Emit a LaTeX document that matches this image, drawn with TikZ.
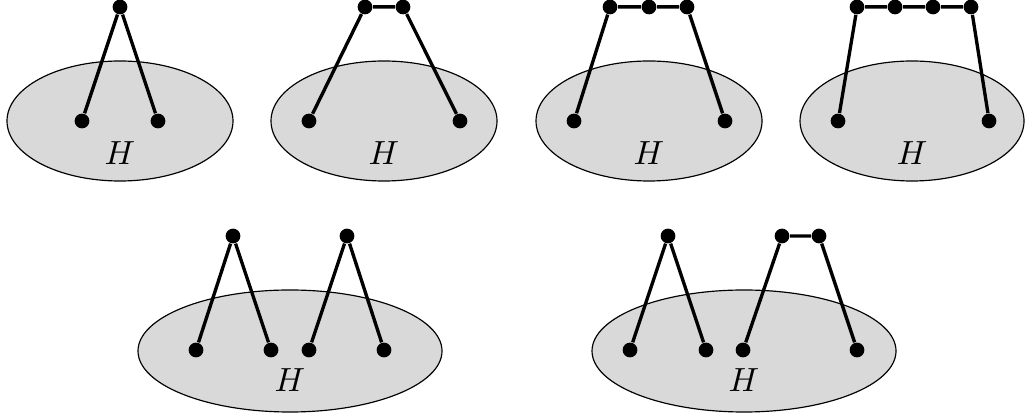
\documentclass[tikz,border=0pt]{standalone}
\begin{document}
\begin{tikzpicture}[scale=1.05,
  vtx/.style={circle,fill=black,inner sep=0pt,minimum size=4.4pt},
  host/.style={fill=gray!30,draw=black,line width=0.35pt},
  edge/.style={line width=1pt}]
\useasboundingbox (0,0) rectangle (10.27,4.14);
% Host graphs
\filldraw[host] (1.20,2.93) ellipse (1.13 and 0.60);
\filldraw[host] (3.84,2.93) ellipse (1.13 and 0.60);
\filldraw[host] (6.49,2.93) ellipse (1.13 and 0.60);
\filldraw[host] (9.12,2.93) ellipse (1.12 and 0.60);
\filldraw[host] (2.90,0.63) ellipse (1.52 and 0.61);
\filldraw[host] (7.44,0.63) ellipse (1.52 and 0.61);
% Labels
\node (h1) at (1.20,2.61) {$H$};
\node (h2) at (3.84,2.61) {$H$};
\node (h3) at (6.49,2.61) {$H$};
\node (h4) at (9.12,2.61) {$H$};
\node (h5) at (2.90,0.34) {$H$};
\node (h6) at (7.44,0.34) {$H$};
% Top row
\node[vtx] (a1) at (0.82,2.93) {};
\node[vtx] (b1) at (1.58,2.93) {};
\node[vtx] (p1) at (1.20,4.07) {};
\draw[edge] (a1) -- (p1) -- (b1);
\node[vtx] (a2) at (3.09,2.93) {};
\node[vtx] (b2) at (4.60,2.93) {};
\node[vtx] (p2) at (3.65,4.07) {};
\node[vtx] (q2) at (4.03,4.07) {};
\draw[edge] (a2) -- (p2) -- (q2) -- (b2);
\node[vtx] (a3) at (5.74,2.93) {};
\node[vtx] (b3) at (7.25,2.93) {};
\node[vtx] (p3) at (6.10,4.07) {};
\node[vtx] (q3) at (6.49,4.07) {};
\node[vtx] (r3) at (6.87,4.07) {};
\draw[edge] (a3) -- (p3) -- (q3) -- (r3) -- (b3);
\node[vtx] (a4) at (8.38,2.93) {};
\node[vtx] (b4) at (9.89,2.93) {};
\node[vtx] (p4) at (8.57,4.07) {};
\node[vtx] (q4) at (8.95,4.07) {};
\node[vtx] (r4) at (9.33,4.07) {};
\node[vtx] (s4) at (9.71,4.07) {};
\draw[edge] (a4) -- (p4) -- (q4) -- (r4) -- (s4) -- (b4);
% Bottom row
\node[vtx] (a5) at (1.96,0.64) {};
\node[vtx] (b5) at (2.71,0.64) {};
\node[vtx] (c5) at (3.09,0.64) {};
\node[vtx] (d5) at (3.84,0.64) {};
\node[vtx] (p5) at (2.33,1.78) {};
\node[vtx] (q5) at (3.47,1.78) {};
\draw[edge] (a5) -- (p5) -- (b5);
\draw[edge] (c5) -- (q5) -- (d5);
\node[vtx] (a6) at (6.30,0.64) {};
\node[vtx] (b6) at (7.06,0.64) {};
\node[vtx] (c6) at (7.43,0.64) {};
\node[vtx] (d6) at (8.57,0.64) {};
\node[vtx] (p6) at (6.68,1.78) {};
\node[vtx] (q6) at (7.82,1.78) {};
\node[vtx] (r6) at (8.19,1.78) {};
\draw[edge] (a6) -- (p6) -- (b6);
\draw[edge] (c6) -- (q6) -- (r6) -- (d6);
\end{tikzpicture}
\end{document}
